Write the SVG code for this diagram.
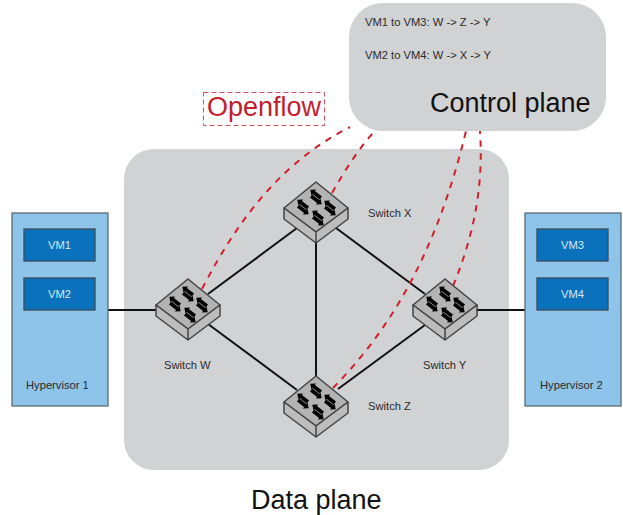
<svg xmlns="http://www.w3.org/2000/svg" width="623" height="515" viewBox="0 0 623 515">
<style>
text{font-family:"Liberation Sans",Arial,sans-serif}
.s{font-size:11.2px;fill:#2b2b2b}
.l{stroke:#111;stroke-width:2;fill:none}
.d{stroke:#d0202e;stroke-width:2;stroke-dasharray:6.500 6.500;fill:none}
.hv{fill:#8ec3ea;stroke:#5a6a75;stroke-width:1.3}
.vm{fill:#0a72bc;stroke:#3a4a58;stroke-width:1.3}
.vt{font-size:11.2px;fill:#d8e8f4;text-anchor:middle}
.ar{fill:#000;stroke:none}
</style>
<defs>
<g id="pair">
<path class="ar" d="M-10-2.800 -5-7.500V-5L5-5V-.4H-5V2Z"/>
<path class="ar" d="M10 2.800 5 7.500V5L-5 5V.4H5V-2Z"/>
</g>
<g id="sw">
<path d="M0 0 32 26 0 50 -32 26Z" fill="#b3b3b3" stroke="#444" stroke-width="1.500" stroke-linejoin="round"/>
<path d="M-32 26V37L0 61V50Z M32 26V37L0 61V50Z" fill="#bdbdbd" stroke="#444" stroke-width="1.500" stroke-linejoin="round"/>
<use href="#pair" transform="translate(0 15) rotate(38) scale(.9 .8)"/>
<use href="#pair" transform="translate(-13 25) rotate(38) scale(.9 .8)"/>
<use href="#pair" transform="translate(14 26) rotate(38) scale(.9 .8)"/>
<use href="#pair" transform="translate(2 36) rotate(38) scale(.9 .8)"/>
</g>
</defs>

<rect id="data-plane-bg" x="124" y="149" width="385" height="321" rx="30" fill="#d1d2d4"/>

<g id="control-plane">
<rect x="349" y="3" width="257" height="128" rx="34" fill="#d1d2d4"/>
<text class="s" x="365" y="26">VM1 to VM3: W -&gt; Z -&gt; Y</text>
<text class="s" x="365" y="59">VM2 to VM4: W -&gt; X -&gt; Y</text>
<text x="430" y="112" font-size="27" fill="#111">Control plane</text>
</g>

<g id="connectors">
<path class="l" d="M108 310H157"/>
<path class="l" d="M208 294 297 228"/>
<path class="l" d="M208 324 297 390"/>
<path class="l" d="M316 243V376"/>
<path class="l" d="M336 228 425 294"/>
<path class="l" d="M338 389 425 325"/>
<path class="l" d="M475 310H525"/>
<path class="d" d="M202 289C240 215 285 160 350 127"/>
<path class="d" d="M332 193C345 170 358 150 373 133"/>
<path class="d" d="M333 388C385 335 435 260 466 131"/>
<path class="d" d="M453 286C472 240 484 190 480 131"/>
</g>

<g id="hypervisor-1">
<rect class="hv" x="12" y="213" width="96" height="193"/>
<text class="s" x="26" y="389">Hypervisor 1</text>
</g>
<g id="vm1"><rect class="vm" x="24" y="229" width="71" height="32"/><text class="vt" x="59.500" y="249">VM1</text></g>
<g id="vm2"><rect class="vm" x="24" y="278" width="71" height="32"/><text class="vt" x="59.500" y="298">VM2</text></g>

<g id="hypervisor-2">
<rect class="hv" x="525" y="213" width="96" height="193"/>
<text class="s" x="540" y="389">Hypervisor 2</text>
</g>
<g id="vm3"><rect class="vm" x="537" y="229" width="71" height="32"/><text class="vt" x="572.500" y="249">VM3</text></g>
<g id="vm4"><rect class="vm" x="537" y="278" width="71" height="32"/><text class="vt" x="572.500" y="298">VM4</text></g>

<g id="switch-w"><use href="#sw" x="188" y="279"/><text class="s" x="164" y="369">Switch W</text></g>
<g id="switch-x"><use href="#sw" x="316" y="182"/><text class="s" x="368" y="217">Switch X</text></g>
<g id="switch-y"><use href="#sw" x="445" y="279"/><text class="s" x="423" y="369">Switch Y</text></g>
<g id="switch-z"><use href="#sw" x="316" y="376"/><text class="s" x="368" y="410">Switch Z</text></g>

<g id="openflow">
<rect x="203.500" y="92.500" width="121" height="33" fill="none" stroke="#d0505a" stroke-width="1" stroke-dasharray="5 3"/>
<text x="207" y="116" font-size="27" fill="#c4202c">Openflow</text>
</g>

<text id="data-plane" x="251" y="509" font-size="27" fill="#111">Data plane</text>
</svg>
